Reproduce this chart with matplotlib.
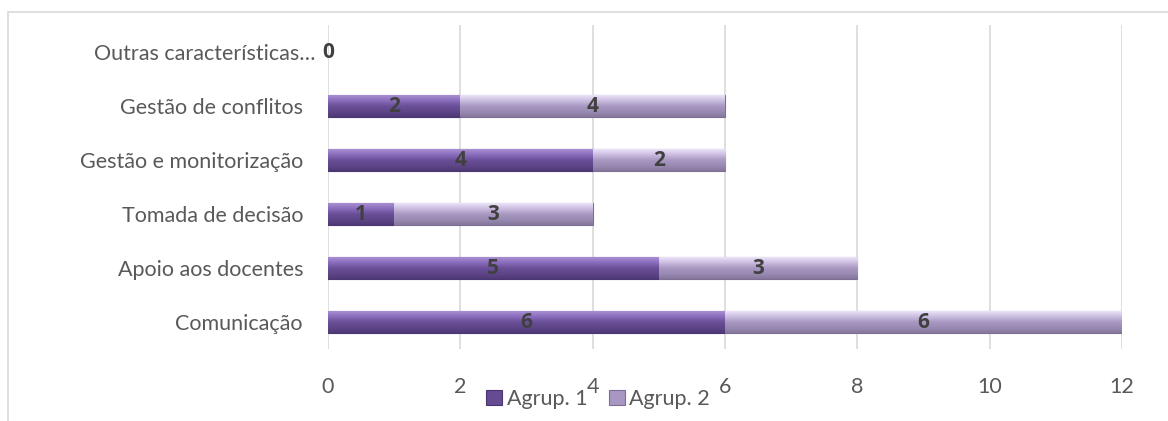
import numpy as np
import matplotlib
matplotlib.use("Agg")
import matplotlib.pyplot as plt
import matplotlib.transforms as mtrans
from matplotlib.colors import LinearSegmentedColormap
from matplotlib.patches import Rectangle

# Data, bottom-to-top order as drawn
categories = ["Comunicação", "Apoio aos docentes", "Tomada de decisão",
              "Gestão e monitorização", "Gestão de conflitos", "Outras características…"]
agrup1 = [6, 5, 1, 4, 2, 0]
agrup2 = [6, 3, 3, 2, 4, 0]
series_names = ["Agrup. 1", "Agrup. 2"]
xticks = [0, 2, 4, 6, 8, 10, 12]

W, H = 1168, 421
plt.rcParams["font.family"] = ["Lato", "DejaVu Sans"]

fig = plt.figure(figsize=(W / 100, H / 100), dpi=100)
ax = fig.add_axes([328 / W, 1 - 349 / H, (1122 - 328) / W, (349 - 25) / H])

# outer chart frame (only top and left visible)
fig.add_artist(Rectangle((8 / W, -0.1), 1.2, 1 - 12 / H + 0.1, transform=fig.transFigure,
                         fill=False, edgecolor="#d9d9d9", linewidth=1.2))

y = np.arange(len(categories))
bh = 0.4
dark = "#654b92"
light = "#a897c2"
b1 = ax.barh(y, agrup1, height=bh, color=dark, edgecolor="#4a3670", linewidth=0.8, zorder=3)
b2 = ax.barh(y, agrup2, left=agrup1, height=bh, color=light, edgecolor="#7d6e96", linewidth=0.8, zorder=3)

# bevel-like vertical gradient on each bar
cm_dark = LinearSegmentedColormap.from_list("d", ["#4e3976", "#5f4689", "#6a4f98", "#8a6cbc", "#a88fd2"])
cm_light = LinearSegmentedColormap.from_list("l", ["#85779c", "#9a8bb4", "#a898c2", "#cbbde0", "#ece2f8"])
grad = np.linspace(0, 1, 64).reshape(-1, 1)
for bars, cmap in ((b1, cm_dark), (b2, cm_light)):
    for p in bars:
        w = p.get_width()
        if w <= 0:
            p.set_linewidth(0)
            continue
        x0, y0, hh = p.get_x(), p.get_y(), p.get_height()
        im = ax.imshow(grad, cmap=cmap, aspect="auto", origin="lower",
                       extent=(x0, x0 + w, y0, y0 + hh), zorder=3.5, interpolation="bilinear")
        im.set_clip_path(p)

# value labels (the zero pair shares one label in the original)
for i, (v1, v2) in enumerate(zip(agrup1, agrup2)):
    p1, p2 = b1[i], b2[i]
    cy = p1.get_y() + p1.get_height() / 2
    if v1 == 0 and v2 == 0:
        ax.text(0, cy, "0", ha="center", va="center", fontsize=15, fontweight="bold",
                family=["Open Sans", "DejaVu Sans"], color="#404040", zorder=5, clip_on=False)
        continue
    for p, v in ((p1, v1), (p2, v2)):
        ax.text(p.get_x() + p.get_width() / 2, cy, str(v),
                ha="center", va="center", fontsize=15, fontweight="bold",
                family=["Open Sans", "DejaVu Sans"], color="#404040", zorder=5)

ax.set_xlim(0, 12)
ax.set_ylim(-0.5, len(categories) - 0.5)
ax.set_xticks(xticks)
ax.set_yticks(y)
ax.set_yticklabels(categories)
ax.tick_params(length=0, labelsize=15.5, labelcolor="#595959")
ax.tick_params(axis="x", pad=20)
ax.tick_params(axis="y", pad=18)
ax.grid(axis="x", color="#d9d9d9", linewidth=1.2, zorder=0)
ax.set_axisbelow(True)
for s in ax.spines.values():
    s.set_visible(False)

# the truncated top label runs right up to its "0" in the original
top_lbl = ax.get_yticklabels()[-1]
top_lbl.set_transform(top_lbl.get_transform() + mtrans.ScaledTranslation(12 / 100, 0, fig.dpi_scale_trans))

leg = fig.legend([b1, b2], series_names, loc="center", bbox_to_anchor=(598 / W, 1 - 399 / H),
                 ncol=2, frameon=False, fontsize=15.5, handlelength=0.75, handleheight=0.75,
                 handletextpad=0.2, columnspacing=1.0, labelcolor="#595959")

fig.savefig("out.png", dpi=100)
